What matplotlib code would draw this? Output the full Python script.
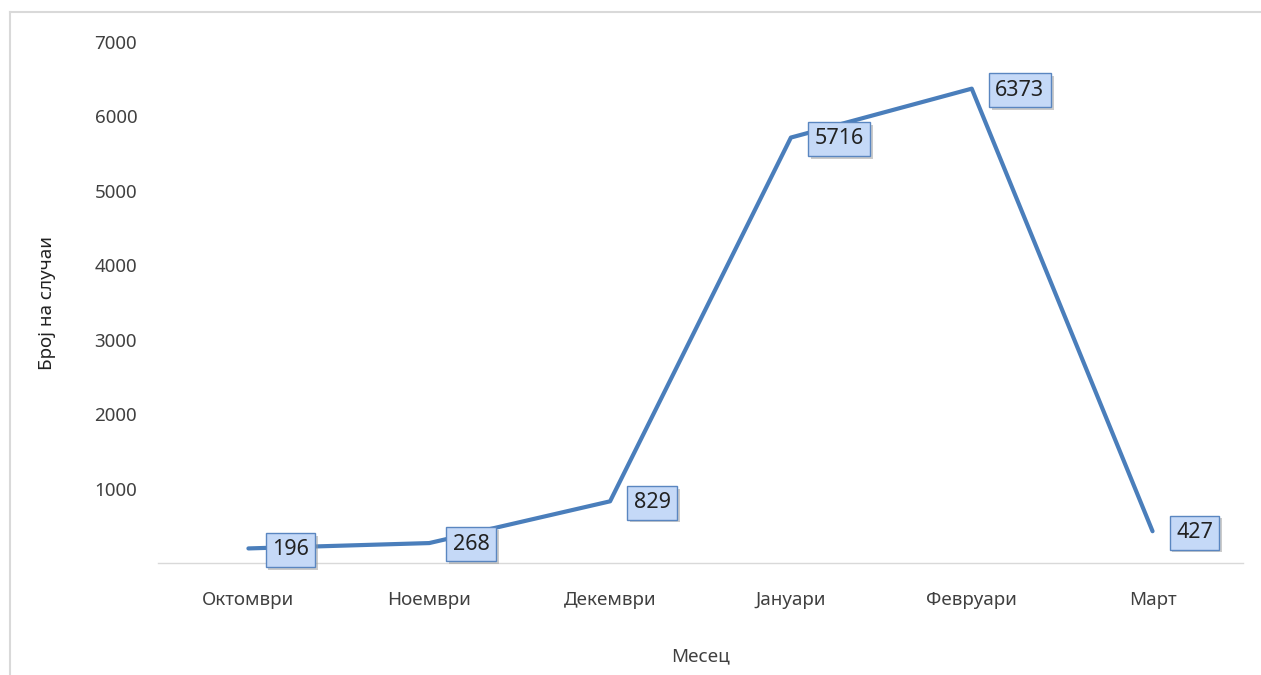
import matplotlib
matplotlib.use("Agg")
import matplotlib.pyplot as plt
from matplotlib.lines import Line2D
import matplotlib.patheffects as pe

plt.rcParams['font.family'] = ['Noto Sans', 'DejaVu Sans']

months = ["Октомври", "Ноември", "Декември", "Јануари", "Февруари", "Март"]
cases = [196, 268, 829, 5716, 6373, 427]
y_ticks = [1000, 2000, 3000, 4000, 5000, 6000, 7000]

line_color = "#4a7ebb"

fig = plt.figure(figsize=(12.61, 6.75), dpi=100)
ax = fig.add_axes([0.1253, 0.1659, 0.8604, 0.7719])

x = list(range(len(months)))
ax.plot(x, cases, color=line_color, linewidth=3.0, solid_capstyle="round",
        solid_joinstyle="round", zorder=2)

# data labels with shadowed boxes
for xi, v in zip(x, cases):
    t = ax.annotate(str(v), (xi, v), xytext=(17, -1), textcoords="offset points",
                    ha="left", va="center", fontsize=15.5, color="#222222",
                    bbox=dict(boxstyle="square,pad=0.3", fc="#c5d9f7",
                              ec="#5a86c0", lw=1.0), zorder=4)
    t.get_bbox_patch().set_path_effects([
        pe.SimplePatchShadow(offset=(2, -2), shadow_rgbFace="#999999", alpha=0.5),
        pe.Normal()])

ax.set_xlim(-0.5, len(months) - 0.5)
ax.set_ylim(0, 7000)
ax.set_xticks(x)
ax.set_xticklabels(months, fontsize=13.5, color="#404040")
ax.set_yticks(y_ticks)
ax.set_yticklabels([str(t) for t in y_ticks], fontsize=13.5, color="#404040")
ax.tick_params(axis="both", length=0)
ax.tick_params(axis="x", pad=20)
ax.tick_params(axis="y", pad=15)

for s in ["top", "right", "left"]:
    ax.spines[s].set_visible(False)
ax.spines["bottom"].set_color("#d9d9d9")
ax.spines["bottom"].set_linewidth(1.0)

ax.set_ylabel("Број на случаи", fontsize=13.5, color="#222222", labelpad=28)
ax.set_xlabel("Месец", fontsize=13.5, color="#404040", labelpad=28)

# outer chart frame
fig.add_artist(Line2D([10 / 1261, 10 / 1261], [0, 663 / 675], color="#d9d9d9", lw=1.5))
fig.add_artist(Line2D([10 / 1261, 1], [663 / 675, 663 / 675], color="#d9d9d9", lw=1.5))

fig.savefig("out.png", dpi=100, facecolor="white")
